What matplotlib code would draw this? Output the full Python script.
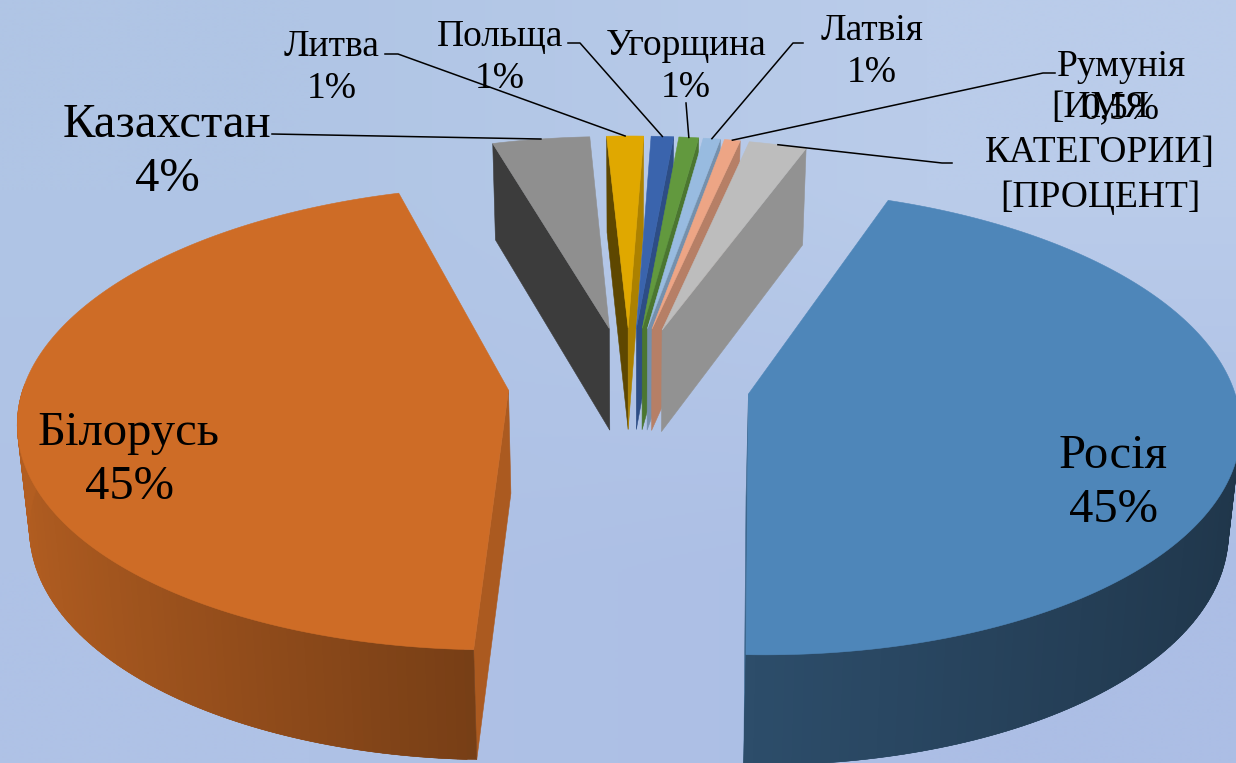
# -*- coding: utf-8 -*-
import numpy as np
import matplotlib
matplotlib.use('Agg')
import matplotlib.pyplot as plt

plt.rcParams['font.family'] = ['Liberation Serif', 'DejaVu Serif']

# shares in clockwise order from the start angle
names = ['Росія', 'Білорусь', 'Казахстан', 'Литва', 'Польща', 'Угорщина', 'Латвія', 'Румунія', '[ИМЯ\nКАТЕГОРИИ]']
shares = [44.85, 44.9, 3.7, 1.4, 0.85, 0.75, 0.65, 0.6, 2.2]
percents = ['45%', '45%', '4%', '1%', '1%', '1%', '1%', '0,5%', '[ПРОЦЕНТ]']
colors = ['#4E86B9', '#CE6C26', '#8F8F8F', '#E0A800', '#3A64AD', '#62993E', '#98BBE0', '#EDA585', '#BDBDBD']

START = 20.3
EXPLODE = 0.25
CX, CY = 629.0, 383.0
RX, RY = 484.0, 227.0
PERSP = 0.119
THICK = 103.0
SHRINK = 0.02


def project(x, y, z=0.0):
    """ plane coords to image pixels, y > 0 is the far side, z = 1 is the bottom """
    s = 1.0 / (1.0 + PERSP * y)
    return CX + RX * x * s * (1 - SHRINK * z), CY - RY * y * s + z * THICK * np.sqrt(s)


def shade(color, f):
    rgb = np.array(matplotlib.colors.to_rgb(color))
    return tuple(np.clip(rgb * f, 0, 1))


def patch(ax, xs, ys, color, zorder):
    ax.fill(xs, ys, facecolor=color, edgecolor=color, linewidth=0.4, zorder=zorder)


def wall_factor(t):
    s = np.sin(np.radians(t))
    return 0.57 - 0.17 * s if s > 0 else 0.57 - 0.30 * s


def area(xs, ys):
    return 0.5 * sum(xs[i] * ys[(i + 1) % 4] - xs[(i + 1) % 4] * ys[i] for i in range(4))


def draw_slice(ax, a0, a1, color, zorder):
    mid = np.radians((a0 + a1) / 2)
    ox, oy = EXPLODE * np.sin(mid), EXPLODE * np.cos(mid)
    t = np.linspace(a0, a1, 160)
    rx = ox + np.sin(np.radians(t))
    ry = oy + np.cos(np.radians(t))

    # cut faces, skip the ones turned away from the viewer
    for i, f, sign in ((0, 0.42, 1), (-1, 0.77, -1)):
        xa, ya = project(ox, oy)
        xb, yb = project(ox, oy, 1)
        xc, yc = project(rx[i], ry[i])
        xd, yd = project(rx[i], ry[i], 1)
        xs, ys = [xa, xc, xd, xb], [ya, yc, yd, yb]
        if 100 < a0 < 200 and i == 0:
            f = 0.83
        if area(xs, ys) * sign < 0:
            patch(ax, xs, ys, shade(color, f), zorder)

    # outer wall, only the part facing the viewer; quads overlap to hide seams
    for j in range(len(t) - 1):
        if np.cos(np.radians(t[j])) < 0.0:
            k = min(j + 2, len(t) - 1)
            xa, ya = project(rx[j], ry[j])
            xb, yb = project(rx[k], ry[k])
            xc, yc = project(rx[k], ry[k], 1)
            xd, yd = project(rx[j], ry[j], 1)
            patch(ax, [xa, xb, xc, xd], [ya, yb, yc, yd], shade(color, wall_factor(t[j])), zorder)

    # top
    xs, ys = project(np.r_[ox, rx], np.r_[oy, ry])
    patch(ax, xs, ys, color, zorder + 0.5)


def rim_point(a0, a1):
    mid = np.radians((a0 + a1) / 2)
    return project((1 + EXPLODE) * np.sin(mid), (1 + EXPLODE) * np.cos(mid))


fig = plt.figure(figsize=(12.36, 7.63), dpi=100)
ax = fig.add_axes([0, 0, 1, 1])

# diagonal background gradient
bg = np.array([[[176, 197, 229], [186, 204, 234]],
               [[175, 194, 230], [172, 190, 229]]]) / 255.0
ax.imshow(bg, extent=[0, 1236, 763, 0], interpolation='bilinear', aspect='auto', zorder=0)

angles = START + np.r_[0, np.cumsum(shares)] / np.sum(shares) * 360.0
mids = np.radians((angles[:-1] + angles[1:]) / 2)

# far slices first, the two big ones go last
order = np.argsort(-np.cos(mids))
for n, i in enumerate(order):
    draw_slice(ax, angles[i], angles[i + 1], colors[i], 1 + n)

# leader lines from the label to the middle of the rim
elbows = {2: [(272, 134), (272, 134)], 3: [(385, 54), (398, 54)], 4: [(568, 43), (580, 43)],
          5: [(686, 103), (686, 103)], 6: [(803, 43), (793, 43)], 7: [(1055, 73), (1043, 73)],
          8: [(952, 163), (942, 163)]}
for i, pts in elbows.items():
    xe, ye = rim_point(angles[i], angles[i + 1])
    ax.plot([pts[0][0], pts[1][0], xe], [pts[0][1], pts[1][1], ye], color='black', lw=1.1, zorder=40)

# text
label_pos = [(1113, 483), (129, 460), (167, 152), (332, 68), (500, 58), (686, 67), (872, 52), (1121, 88), (1100, 153)]
label_size = [35, 35, 35, 27, 27, 27, 27, 27, 27]
label_space = [1.3, 1.3, 1.3, 1.3, 1.3, 1.3, 1.3, 1.3, 1.4]
for i in range(len(names)):
    ax.text(label_pos[i][0], label_pos[i][1], names[i] + '\n' + percents[i], ha='center', va='center',
            multialignment='center', fontsize=label_size[i], linespacing=label_space[i], zorder=50)

ax.set_xlim(0, 1236)
ax.set_ylim(763, 0)
ax.axis('off')
fig.savefig('out.png', dpi=100)
